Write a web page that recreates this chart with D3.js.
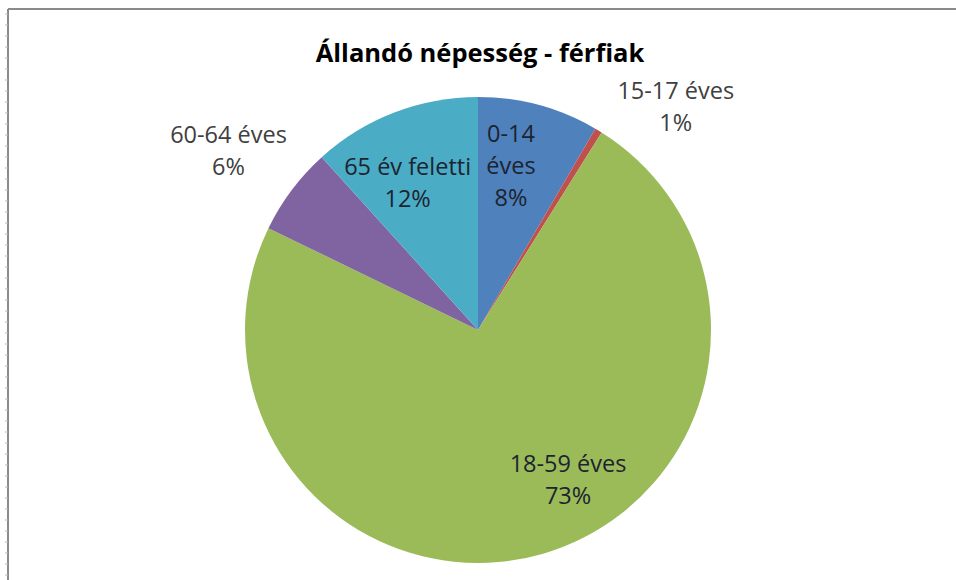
<!doctype html>
<html>
<head>
<meta charset="utf-8">
<title>Állandó népesség - férfiak</title>
<script src="https://d3js.org/d3.v7.min.js"></script>
<style>
  body { margin: 0; background: #fff; }
  svg { display: block; }
  text { font-family: "Open Sans", sans-serif; }
</style>
</head>
<body>
<script>
  // data
  var categories = ["0-14 éves", "15-17 éves", "18-59 éves", "60-64 éves", "65 év feletti"];
  var values = [8.4, 0.5, 73.3, 6.1, 11.7];
  var colors = ["#4F81BD", "#C0504D", "#9BBB59", "#8064A2", "#4BACC6"];
  var title = "Állandó népesség - férfiak";

  // label placement: radius factor, angle nudge (deg), inside?, wrap name?
  var labelR = [0.72, 1.28, 0.75, 1.32, 0.70];
  var labelShift = [-3.8, 10.4, -15, -1.1, -4.5];
  var labelInside = [true, false, true, false, true];
  var labelWrap = [true, false, false, false, false];

  var width = 956, height = 580;
  var cx = 478, cy = 330, radius = 233;
  var lineH = 32, fontSize = 23.5;

  var svg = d3.select("body").append("svg")
    .attr("width", width).attr("height", height);

  // frame (left + top border like the screenshot)
  svg.append("line").attr("x1", 8).attr("y1", 9).attr("x2", width).attr("y2", 9)
    .attr("stroke", "#8a8a8a").attr("stroke-width", 2);
  svg.append("line").attr("x1", 8).attr("y1", 9).attr("x2", 8).attr("y2", height)
    .attr("stroke", "#8a8a8a").attr("stroke-width", 2);
  svg.append("g").selectAll("line").data(d3.range(14, height, 11)).join("line")
    .attr("x1", 5).attr("x2", 8).attr("y1", function(d) { return d; }).attr("y2", function(d) { return d; })
    .attr("stroke", "#bbb").attr("stroke-width", 1);

  svg.append("text")
    .attr("x", cx + 2).attr("y", 62)
    .attr("text-anchor", "middle")
    .attr("font-size", 25.5).attr("font-weight", "bold")
    .attr("fill", "#000")
    .text(title);

  var pie = d3.pie().sort(null).value(function(d) { return d; });
  var arcs = pie(values);
  var arc = d3.arc().innerRadius(0).outerRadius(radius);

  var g = svg.append("g").attr("transform", "translate(" + cx + "," + cy + ")");

  g.selectAll("path").data(arcs).join("path")
    .attr("d", arc)
    .attr("fill", function(d, i) { return colors[i]; });

  var labels = g.selectAll("g.lbl").data(arcs).join("g").attr("class", "lbl")
    .attr("transform", function(d, i) {
      var a = (d.startAngle + d.endAngle) / 2 + labelShift[i] * Math.PI / 180;
      var r = radius * labelR[i];
      return "translate(" + (Math.sin(a) * r) + "," + (-Math.cos(a) * r) + ")";
    });

  labels.each(function(d, i) {
    var name = categories[i];
    var lines = labelWrap[i] ? name.split(" ") : [name];
    lines.push(Math.round(values[i]) + "%");
    var t = d3.select(this).append("text")
      .attr("text-anchor", "middle")
      .attr("font-size", fontSize)
      .attr("fill", labelInside[i] ? "#1c2430" : "#404040");
    var y0 = -(lines.length - 1) * lineH / 2 + fontSize * 0.36;
    lines.forEach(function(s, k) {
      t.append("tspan").attr("x", 0).attr("y", y0 + k * lineH).text(s);
    });
  });
</script>
</body>
</html>
